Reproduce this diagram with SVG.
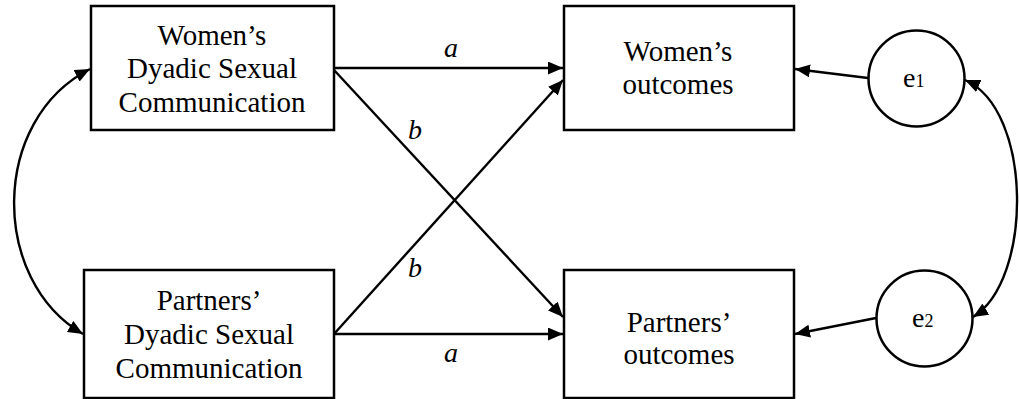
<svg xmlns="http://www.w3.org/2000/svg" width="1019" height="399" viewBox="0 0 1019 399" font-family="Liberation Serif">
<defs>
<marker id="ah" viewBox="0 0 15 13" refX="15" refY="6.5" markerWidth="15" markerHeight="13" markerUnits="userSpaceOnUse" orient="auto-start-reverse">
<path d="M0,0 L15,6.5 L0,13 z" fill="#000"/>
</marker>
</defs>
<g id="connectors" fill="none" stroke="#000" stroke-width="2.4">
<path d="M334 68 L563 68" marker-end="url(#ah)"/>
<path d="M334 70 L563 317" marker-end="url(#ah)"/>
<path d="M334 334 L563 80" marker-end="url(#ah)"/>
<path d="M334 334 L563 334" marker-end="url(#ah)"/>
<path d="M868 78 L795 69" marker-end="url(#ah)"/>
<path d="M876 318 L795 334" marker-end="url(#ah)"/>
<path d="M90 69 C-10 120 -10 280 83 334" marker-start="url(#ah)" marker-end="url(#ah)"/>
<path d="M965 80 C1033 110 1033 280 973 317" marker-start="url(#ah)" marker-end="url(#ah)"/>
</g>
<g id="labels" font-family="Liberation Serif" font-size="28" font-style="italic" text-anchor="middle" fill="#000">
<text x="451" y="57">a</text>
<text x="415" y="139">b</text>
<text x="415" y="277">b</text>
<text x="451" y="362">a</text>
</g>
<g id="women-dsc" font-family="Liberation Serif" font-size="29" text-anchor="middle">
<rect x="91" y="6" width="243" height="124" fill="#fff" stroke="#000" stroke-width="2.5"/>
<text x="212" y="45">Women’s</text>
<text x="212" y="78">Dyadic Sexual</text>
<text x="212" y="112">Communication</text>
</g>
<g id="partners-dsc" font-family="Liberation Serif" font-size="29" text-anchor="middle">
<rect x="84" y="270" width="250" height="128" fill="#fff" stroke="#000" stroke-width="2.5"/>
<text x="209" y="310">Partners’</text>
<text x="209" y="344">Dyadic Sexual</text>
<text x="209" y="378">Communication</text>
</g>
<g id="women-outcomes" font-family="Liberation Serif" font-size="29" text-anchor="middle">
<rect x="564" y="6" width="230" height="124" fill="#fff" stroke="#000" stroke-width="2.5"/>
<text x="678" y="61">Women’s</text>
<text x="678" y="94">outcomes</text>
</g>
<g id="partners-outcomes" font-family="Liberation Serif" font-size="29" text-anchor="middle">
<rect x="564" y="270" width="230" height="128" fill="#fff" stroke="#000" stroke-width="2.5"/>
<text x="679" y="332">Partners’</text>
<text x="679" y="364">outcomes</text>
</g>
<g id="e1" font-family="Liberation Serif" font-size="28">
<circle cx="916.5" cy="78.5" r="48" fill="#fff" stroke="#000" stroke-width="2.5"/>
<text x="903" y="87">e<tspan font-size="18">1</tspan></text>
</g>
<g id="e2" font-family="Liberation Serif" font-size="28">
<circle cx="924.5" cy="318.5" r="48" fill="#fff" stroke="#000" stroke-width="2.5"/>
<text x="912" y="327">e<tspan font-size="18">2</tspan></text>
</g>
</svg>
